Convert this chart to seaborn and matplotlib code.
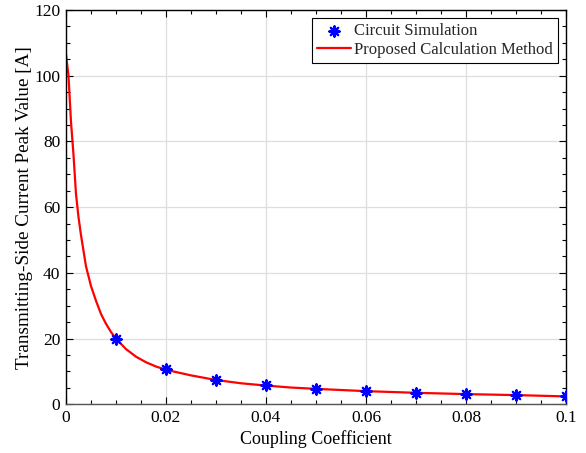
import seaborn as sns
import matplotlib.pyplot as plt
from matplotlib.ticker import MultipleLocator

# Coupling coefficients for circuit simulation
sim_k = [0.01, 0.02, 0.03, 0.04, 0.05, 0.06, 0.07, 0.08, 0.09, 0.10]
sim_current = [20.0, 10.7, 7.4, 5.8, 4.7, 4.0, 3.5, 3.1, 2.8, 2.5]

# Proposed calculation method curve
calc_k = [0.0, 0.0005, 0.001, 0.0015, 0.002, 0.0025, 0.003, 0.004, 0.005, 0.006,
          0.007, 0.008, 0.009, 0.01, 0.012, 0.014, 0.016, 0.018, 0.02, 0.025,
          0.03, 0.035, 0.04, 0.045, 0.05, 0.06, 0.07, 0.08, 0.09, 0.1]
calc_current = [106.5, 100.0, 86.0, 76.0, 64.0, 57.0, 51.5, 42.0, 36.0, 31.5,
                27.5, 24.5, 22.0, 20.0, 16.8, 14.5, 12.8, 11.5, 10.5, 8.8,
                7.4, 6.4, 5.7, 5.1, 4.7, 4.0, 3.5, 3.1, 2.8, 2.4]

sns.set_theme(style="whitegrid")
plt.rcParams['font.family'] = ['Liberation Serif', 'DejaVu Serif']

fig = plt.figure(figsize=(5.86, 4.53), dpi=100)
ax = fig.add_axes([0.1126, 0.1075, 0.8533, 0.8705])

sns.scatterplot(x=sim_k, y=sim_current, ax=ax, marker=(8, 2, 0), s=55,
                color="#0000ff", linewidth=1.6, edgecolor="#0000ff",
                label="Circuit Simulation", zorder=3)
sns.lineplot(x=calc_k, y=calc_current, ax=ax, color="#ff0000", linewidth=1.6,
             label="Proposed Calculation Method", zorder=2)

ax.set_xlim(0, 0.1)
ax.set_ylim(0, 120)
ax.xaxis.set_minor_locator(MultipleLocator(0.005))
ax.yaxis.set_major_locator(MultipleLocator(20))
ax.yaxis.set_minor_locator(MultipleLocator(5))
ax.set_xticks([0, 0.02, 0.04, 0.06, 0.08, 0.1])
ax.set_xticklabels(["0", "0.02", "0.04", "0.06", "0.08", "0.1"])

ax.grid(True, which="major", color="#dedede", linewidth=0.9)
ax.grid(False, which="minor")
for s in ax.spines.values():
    s.set_color("black")
    s.set_linewidth(1.0)
ax.spines["bottom"].set_color("#555555")

ax.tick_params(which="both", direction="in", top=True, right=True,
               bottom=True, left=True, colors="black", labelsize=12.5)
ax.tick_params(which="major", length=5, width=0.8, pad=4)
ax.tick_params(which="minor", length=3, width=0.8)

ax.set_xlabel("Coupling Coefficient", fontsize=13, color="black", labelpad=3)
ax.set_ylabel("Transmitting-Side Current Peak Value [A]", fontsize=13.8,
              color="black", labelpad=1)

leg = ax.legend(loc="upper right", fontsize=12, frameon=True, fancybox=False,
                framealpha=1, edgecolor="black", borderpad=0.3,
                handlelength=2.0, handletextpad=0.2, labelspacing=0.15,
                borderaxespad=0.5)
leg.get_frame().set_linewidth(0.8)

fig.savefig("out.png", dpi=100)
